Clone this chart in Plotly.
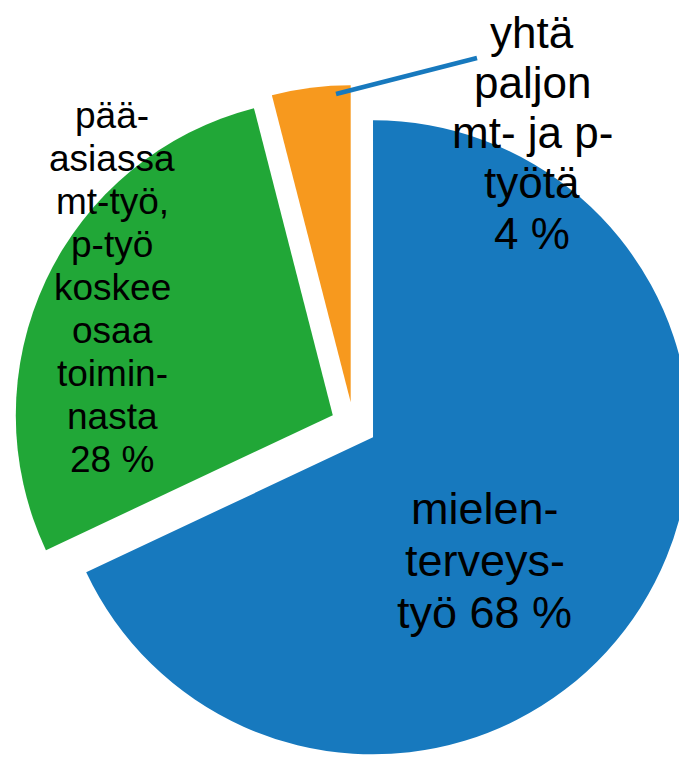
import plotly.graph_objects as go

# ---- data ----
categories = ["mielenterveystyö", "pääasiassa mt-työ, p-työ koskee osaa toiminnasta", "yhtä paljon mt- ja p-työtä"]
values = [68, 28, 4]
colors = ["#1779BE", "#21A737", "#F7991E"]
label_lines = [
    ["mielen-", "terveys-", "työ 68 %"],
    ["pää-", "asiassa", "mt-työ,", "p-työ", "koskee", "osaa", "toimin-", "nasta", "28 %"],
    ["yhtä", "paljon", "mt- ja p-", "työtä", "4 %"],
]

# ---- layout constants (screen pixels) ----
W, H = 687, 757
OFF = 8  # page body offset of the figure
pull = 0.07256
# label placement: (centre x, first baseline y, line spacing, font size)
label_pos = [
    (485, 524, 52.0, 45),
    (112, 128, 43.1, 37),
    (532, 47.5, 50.2, 44),
]

def px(x):
    return (x - OFF) / W

def py(y):
    return 1 - (y - OFF) / H

fig = go.Figure(
    go.Pie(
        labels=categories,
        values=values,
        sort=False,
        direction="clockwise",
        rotation=0,
        pull=[pull] * len(values),
        marker=dict(colors=colors, line=dict(width=0)),
        textinfo="none",
        hoverinfo="label+percent",
        showlegend=False,
        domain=dict(x=[5.6 / W, 685.6 / W], y=[0, 680 / H]),
    )
)

annotations = []
for lines, (cx, b0, dy, fs) in zip(label_lines, label_pos):
    for i, t in enumerate(lines):
        base = b0 + i * dy
        annotations.append(
            dict(
                text=t,
                x=px(cx),
                y=py(base - 0.3465 * fs),
                xref="paper",
                yref="paper",
                xanchor="center",
                yanchor="middle",
                borderpad=0,
                showarrow=False,
                font=dict(family="Liberation Sans, Arial, sans-serif", size=fs, color="#000000"),
            )
        )

fig.update_layout(
    width=W,
    height=H,
    margin=dict(l=0, r=0, t=0, b=0),
    paper_bgcolor="white",
    plot_bgcolor="white",
    annotations=annotations,
    shapes=[
        dict(
            type="line",
            xref="paper",
            yref="paper",
            x0=px(336),
            y0=py(94),
            x1=px(477),
            y1=py(58),
            line=dict(color="#1779BE", width=4.5),
        )
    ],
)

fig.write_html("out.html")
